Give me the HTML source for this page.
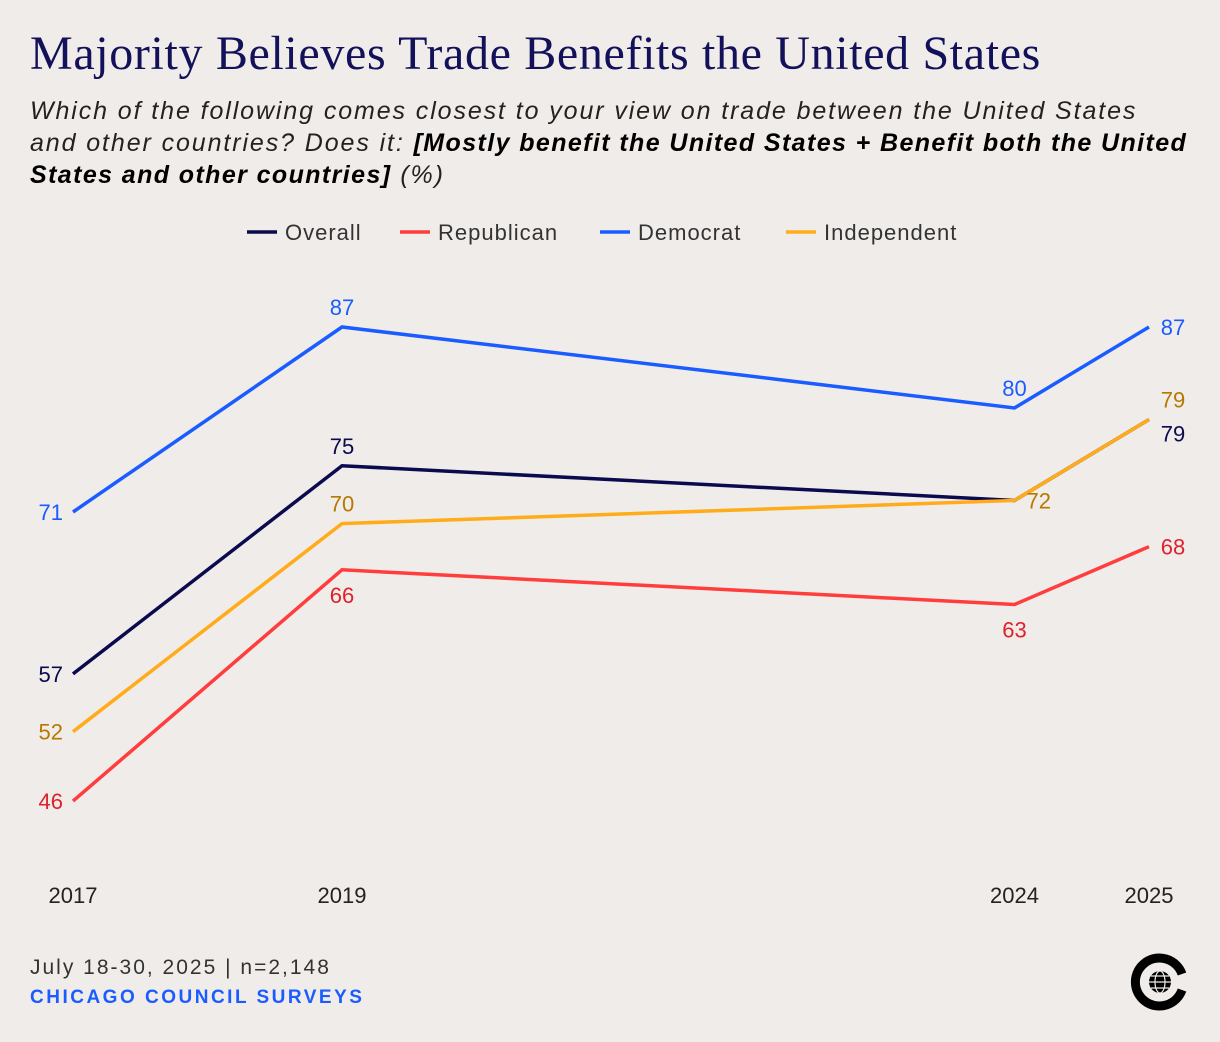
<!DOCTYPE html>
<html><head><meta charset="utf-8"><style>
body{margin:0;background:#f0ece9;}
#wrap{position:relative;width:1220px;height:1042px;background:#f0ece9;font-family:"Liberation Sans",sans-serif;overflow:hidden}
h1{position:absolute;left:30px;top:26px;margin:0;font-family:"Liberation Serif",serif;font-weight:normal;font-size:48px;color:#12115a;letter-spacing:0.65px;white-space:nowrap}
.sub{position:absolute;left:30px;top:95px;width:1190px;font-style:italic;font-size:25px;line-height:32px;color:#222;letter-spacing:1.9px;white-space:nowrap}
.sub b{color:#000;letter-spacing:1.4px}
.foot{position:absolute;left:30px;top:956px;font-size:21px;color:#333;letter-spacing:2px}
.src{position:absolute;left:30px;top:987px;font-size:19px;font-weight:bold;color:#1a5cff;letter-spacing:2.5px}
</style></head><body>
<div id="wrap">
<h1>Majority Believes Trade Benefits the United States</h1>
<div class="sub">Which of the following comes closest to your view on trade between the United States<br>and other countries? Does it: <b>[Mostly benefit the United States + Benefit both the United<br>States and other countries]</b> (%)</div>
<svg id="chart" width="1220" height="1042" style="position:absolute;left:0;top:0"></svg>
<div class="foot">July 18-30, 2025 | n=2,148</div>
<div class="src">CHICAGO COUNCIL SURVEYS</div>
<svg width="60" height="60" style="position:absolute;left:1130px;top:952px">
<path d="M52 38 A24 24 0 1 1 52 22" fill="none" stroke="#000" stroke-width="9"/>
<circle cx="30" cy="30" r="11" fill="#000"/>
<g stroke="#f0ece9" stroke-width="1.2" fill="none"><ellipse cx="30" cy="30" rx="5" ry="11"/><line x1="19" y1="30" x2="41" y2="30"/><line x1="21" y1="24" x2="39" y2="24"/><line x1="21" y1="36" x2="39" y2="36"/></g>
</svg>
</div>
<script>
const years=[2017,2019,2024,2025];
const overall=[57,75,72,79];
const republican=[46,66,63,68];
const democrat=[71,87,80,87];
const independent=[52,70,72,79];
const seriesNames=["Overall","Republican","Democrat","Independent"];
const NS="http://www.w3.org/2000/svg";
const svg=document.getElementById('chart');
function x(yr){return 73+(yr-2017)*134.5;}
function y(v){return 327+(87-v)*11.5625;}
function mk(t,a){const e=document.createElementNS(NS,t);for(const k in a)e.setAttribute(k,a[k]);svg.appendChild(e);return e;}
const series=[
 {name:"Overall",vals:overall,c:"#0b0a4f",lc:"#0b0a4f"},
 {name:"Republican",vals:republican,c:"#ff3d3d",lc:"#e0202a"},
 {name:"Democrat",vals:democrat,c:"#1a5cff",lc:"#1a5cff"},
 {name:"Independent",vals:independent,c:"#ffab1a",lc:"#b87800"}];
const lx=[247,400,600,786];
series.forEach((s,i)=>{
 const l=mk('line',{x1:lx[i],x2:lx[i]+30,y1:232,y2:232,stroke:s.c,'stroke-width':3.5});
 
 
 const t=mk('text',{x:lx[i]+38,y:240,'font-size':22,fill:'#333','font-family':'Liberation Sans, sans-serif','letter-spacing':1});
 t.textContent=seriesNames[i];
 
 
});
years.forEach(yr=>{
 const t=mk('text',{x:x(yr),y:903,'font-size':22,fill:'#222','text-anchor':'middle','font-family':'Liberation Sans, sans-serif'});
 t.textContent=yr;
 
 
});
const place={
 Overall:[[-10,8,'end'],[0,-12,'middle'],null,[24,22,'middle']],
 Republican:[[-10,8,'end'],[0,33,'middle'],[0,33,'middle'],[24,8,'middle']],
 Democrat:[[-10,8,'end'],[0,-12,'middle'],[0,-12,'middle'],[24,8,'middle']],
 Independent:[[-10,8,'end'],[0,-12,'middle'],[12,8,'start'],[24,-12,'middle']]};
series.forEach(s=>{
 const d=s.vals.map((v,i)=>(i?'L':'M')+x(years[i])+' '+y(v)).join(' ');
 const p=mk('path',{d:d,fill:'none',stroke:s.c,'stroke-width':3.5});
 
 
 s.vals.forEach((v,i)=>{
  const pl=place[s.name][i]; if(!pl)return;
  const t=mk('text',{x:x(years[i])+pl[0],y:y(v)+pl[1],'font-size':22,fill:s.lc,'text-anchor':pl[2],'font-family':'Liberation Sans, sans-serif'});
  t.textContent=v;
  
  
 });
});
</script>
</body></html>
